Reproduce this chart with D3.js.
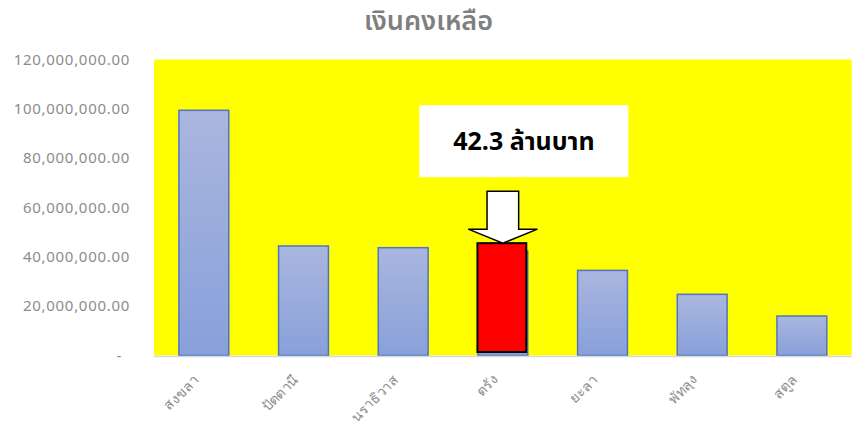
<!DOCTYPE html>
<html>
<head>
<meta charset="utf-8">
<script src="https://cdn.jsdelivr.net/npm/d3@7"></script>
<style>
  html, body { margin: 0; padding: 0; background: #ffffff; }
  svg { display: block; font-family: "Noto Sans Thai", "Noto Sans", "DejaVu Sans", sans-serif; }
</style>
</head>
<body>
<svg id="chart" width="857" height="428"></svg>
<script>
// chart data
const title = 'เงินคงเหลือ';
const provinces = ['สงขลา', 'ปัตตานี', 'นราธิวาส', 'ตรัง', 'ยะลา', 'พัทลุง', 'สตูล'];
const balances = [99400000, 44400000, 43700000, 42300000, 34500000, 24800000, 16000000];
const yTicks = [0, 20000000, 40000000, 60000000, 80000000, 100000000, 120000000];
const highlightProvince = 'ตรัง';
const calloutText = '42.3 ล้านบาท';

const width = 857, height = 428;
const margin = { top: 59.5, right: 5.3, bottom: 72.5, left: 154 };
const innerW = width - margin.left - margin.right;
const innerH = height - margin.top - margin.bottom;

const svg = d3.select('#chart');

// bar gradient (lighter on top)
const defs = svg.append('defs');
const grad = defs.append('linearGradient')
    .attr('id', 'barGrad')
    .attr('x1', 0).attr('y1', 0).attr('x2', 0).attr('y2', 1);
grad.append('stop').attr('offset', '0%').attr('stop-color', '#aab6de');
grad.append('stop').attr('offset', '100%').attr('stop-color', '#88a0da');

// title
svg.append('text')
    .attr('x', width / 2)
    .attr('y', 30)
    .attr('text-anchor', 'middle')
    .attr('font-size', 27)
    .attr('font-weight', 600)
    .attr('fill', '#7f7f7f')
    .text(title);

const g = svg.append('g').attr('transform', `translate(${margin.left},${margin.top})`);

const x = d3.scaleBand()
    .domain(provinces)
    .range([0, innerW])
    .paddingInner(0.5)
    .paddingOuter(0.25);

const y = d3.scaleLinear()
    .domain([0, 120000000])
    .range([innerH, 0]);

// plot area background
g.append('rect')
    .attr('width', innerW)
    .attr('height', innerH)
    .attr('fill', '#ffff00');

// y axis labels
const fmt = d3.format(',.2f');
const yAxis = d3.axisLeft(y)
    .tickValues(yTicks)
    .tickSize(0)
    .tickPadding(24)
    .tickFormat(d => d === 0 ? '-' : fmt(d));

const yg = g.append('g').call(yAxis);
yg.select('.domain').remove();
yg.selectAll('text')
    .attr('font-size', 15)
    .attr('letter-spacing', 0.7)
    .attr('fill', '#8c8c8c')
    .attr('font-family', '"Noto Sans", "Open Sans", sans-serif');
yg.selectAll('.tick')
    .filter(d => d === 0)
    .select('text')
    .attr('dx', -8);

// bars
g.selectAll('.bar')
    .data(provinces)
    .enter()
    .append('rect')
    .attr('class', 'bar')
    .attr('x', d => x(d))
    .attr('y', (d, i) => y(balances[i]))
    .attr('width', x.bandwidth())
    .attr('height', (d, i) => innerH - y(balances[i]))
    .attr('fill', 'url(#barGrad)')
    .attr('stroke', '#4f74c2')
    .attr('stroke-width', 1.5);

// x axis line
g.append('line')
    .attr('x1', 0).attr('x2', innerW)
    .attr('y1', innerH + 1).attr('y2', innerH + 1)
    .attr('stroke', '#d9d9d9')
    .attr('stroke-width', 1.5);

// x axis labels, rotated
const xAxis = d3.axisBottom(x).tickSize(0).tickPadding(0);
const xg = g.append('g')
    .attr('transform', `translate(0,${innerH})`)
    .call(xAxis);
xg.select('.domain').remove();
xg.selectAll('text')
    .attr('font-size', 14)
    .attr('fill', '#8c8c8c')
    .attr('text-anchor', 'end')
    .attr('dy', 0)
    .attr('transform', 'translate(-4,25) rotate(-45)');

// highlight for the selected province
const hi = provinces.indexOf(highlightProvince);
const hx = x(highlightProvince);
const hc = hx + x.bandwidth() / 2;
const hTop = y(balances[hi]) - 8;

g.append('rect')
    .attr('x', hx - 0.5)
    .attr('y', hTop)
    .attr('width', x.bandwidth() - 1)
    .attr('height', innerH - 3.5 - hTop)
    .attr('fill', '#ff0000')
    .attr('stroke', '#000000')
    .attr('stroke-width', 2);

// arrow pointing down at the highlighted bar
const arrow = d3.path();
arrow.moveTo(hc - 15.8, hTop - 52);
arrow.lineTo(hc + 15.8, hTop - 52);
arrow.lineTo(hc + 15.8, hTop - 14);
arrow.lineTo(hc + 34.6, hTop - 14);
arrow.lineTo(hc, hTop);
arrow.lineTo(hc - 34.6, hTop - 14);
arrow.lineTo(hc - 15.8, hTop - 14);
arrow.closePath();
g.append('path')
    .attr('d', arrow.toString())
    .attr('fill', '#ffffff')
    .attr('stroke', '#000000')
    .attr('stroke-width', 1.5);

// callout box
const boxW = 209, boxH = 72;
const boxX = hc + 21 - boxW / 2;
const boxY = hTop - 138;
g.append('rect')
    .attr('x', boxX)
    .attr('y', boxY)
    .attr('width', boxW)
    .attr('height', boxH)
    .attr('fill', '#ffffff');
g.append('text')
    .attr('x', boxX + boxW / 2)
    .attr('y', boxY + 45)
    .attr('text-anchor', 'middle')
    .attr('font-size', 25)
    .attr('font-weight', 'bold')
    .attr('fill', '#000000')
    .text(calloutText);
</script>
</body>
</html>
